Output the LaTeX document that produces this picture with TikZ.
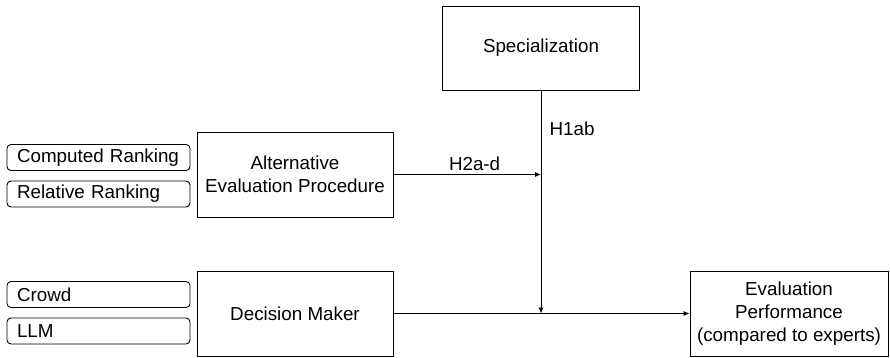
\documentclass[tikz,border=0pt]{standalone}
\usepackage{fontspec}
\setmainfont{Liberation Sans}
\usetikzlibrary{arrows.meta}

\begin{document}
\begin{tikzpicture}[x=1pt, y=-1pt, >={Latex[length=6pt,width=5pt]},
		every node/.style={font=\fontsize{18.8}{23}\selectfont},
		block/.style={draw, line width=0.9pt, align=center, minimum width=196pt, minimum height=85pt, inner sep=0pt},
		option/.style={draw, line width=0.9pt, rounded corners=4pt, text width=163pt, align=left, inner xsep=10pt, inner ysep=0pt, minimum height=26pt},
		link/.style={line width=0.9pt, ->}]

					% Fix the page to the size of the reference
						\useasboundingbox (0,0) rectangle (890,357);

					% The four main boxes
						\node [block, minimum width=197pt, minimum height=84pt] (spec) at (541,48) {Specialization};
						\node [block] (alt) at (295,174.5) {Alternative\\Evaluation Procedure};
						\node [block] (dm) at (295,313.5) {Decision Maker};
						\node [block, minimum width=198pt] (perf) at (789,313.5) {Evaluation\\Performance\\(compared to experts)};

					% The rounded option boxes on the left
						\foreach \name/\y/\txt in {
							comp/157.5/Computed Ranking,
							rel/194/Relative Ranking,
							crowd/294.5/Crowd,
							llm/331/LLM} {
								\node [option] (\name) at (98.5,\y) {\txt};
								}

					% Connectors and hypothesis labels
						\coordinate (join) at (spec.south |- dm.east);
						\draw [link] (spec.south) -- (join);
						\draw [link] (alt.east) -- (spec.south |- alt.east) node [pos=0.55, above] (h2) {H2a-d};
						\draw [link] (dm.east) -- (perf.west);
						\node (h1) at (572,129) {H1ab};

					\end{tikzpicture}
\end{document}
